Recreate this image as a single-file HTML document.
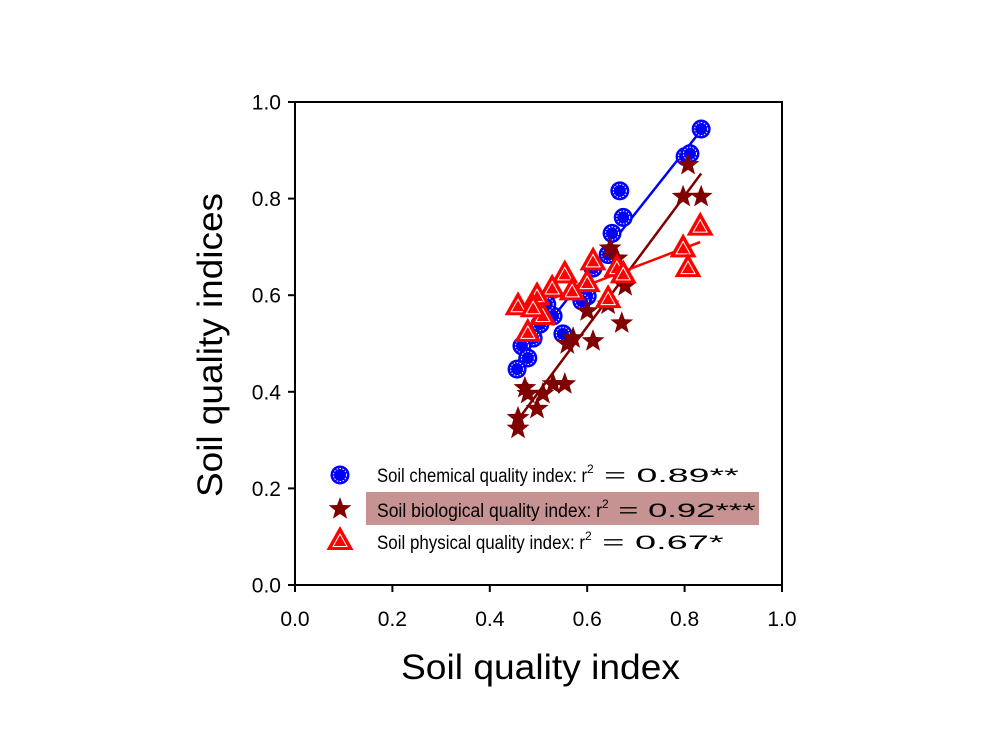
<!DOCTYPE html>
<html><head><meta charset="utf-8"><style>
body{margin:0;background:#fff}
svg{display:block;font-family:"Liberation Sans",Arial,sans-serif}
</style></head><body>
<svg id="chart" width="1000" height="750" viewBox="0 0 1000 750">
<g id="axes"></g>
<g id="lines"></g>
<g id="marks"></g>
<text x="401" y="679" font-size="35" textLength="279" lengthAdjust="spacingAndGlyphs">Soil quality index</text>
<text transform="translate(222,497) rotate(-90)" font-size="35" textLength="304" lengthAdjust="spacingAndGlyphs">Soil quality indices</text>
<g>
<rect x="366" y="492" width="393" height="33" fill="#c79292"/>
<g id="legmarks"></g>
<text x="377" y="482" font-size="19"><tspan textLength="210" lengthAdjust="spacingAndGlyphs">Soil chemical quality index: r</tspan><tspan dy="-9" font-size="12">2</tspan><tspan dy="9" textLength="145" lengthAdjust="spacingAndGlyphs"> = 0.89**</tspan></text>
<text x="377" y="517" font-size="19"><tspan textLength="225" lengthAdjust="spacingAndGlyphs">Soil biological quality index: r</tspan><tspan dy="-9" font-size="12">2</tspan><tspan dy="9" textLength="147" lengthAdjust="spacingAndGlyphs"> = 0.92***</tspan></text>
<text x="377" y="549" font-size="19"><tspan textLength="208" lengthAdjust="spacingAndGlyphs">Soil physical quality index: r</tspan><tspan dy="-9" font-size="12">2</tspan><tspan dy="9" textLength="132" lengthAdjust="spacingAndGlyphs"> = 0.67*</tspan></text>
</g>
</svg>
<script>
const xTicks=[0,0.2,0.4,0.6,0.8,1.0];
const yTicks=[0,0.2,0.4,0.6,0.8,1.0];
const chemX=[0.834,0.801,0.811,0.667,0.674,0.651,0.643,0.612,0.600,0.589,0.550,0.530,0.503,0.489,0.466,0.478,0.456,0.517];
const chemY=[0.944,0.887,0.893,0.816,0.761,0.728,0.684,0.656,0.598,0.588,0.520,0.557,0.540,0.511,0.495,0.470,0.447,0.581];
const bioX=[0.807,0.797,0.834,0.647,0.661,0.678,0.671,0.643,0.600,0.612,0.571,0.559,0.554,0.530,0.509,0.472,0.497,0.478,0.458,0.458];
const bioY=[0.870,0.804,0.804,0.697,0.676,0.619,0.542,0.581,0.567,0.505,0.511,0.499,0.416,0.416,0.396,0.408,0.365,0.396,0.346,0.324];
const phyX=[0.832,0.797,0.807,0.612,0.661,0.674,0.643,0.600,0.554,0.569,0.528,0.497,0.458,0.509,0.478,0.489];
const phyY=[0.742,0.697,0.656,0.670,0.656,0.643,0.592,0.625,0.643,0.608,0.614,0.598,0.577,0.557,0.522,0.573];

const NS="http://www.w3.org/2000/svg";
const X0=295,X1=782,Y0=585,Y1=102;
const sx=v=>X0+v*(X1-X0);
const sy=v=>Y0-v*(Y0-Y1);
function mk(tag,attrs,parent){const e=document.createElementNS(NS,tag);for(const k in attrs)e.setAttribute(k,attrs[k]);parent.appendChild(e);return e;}
const axes=document.getElementById('axes');
const frame=mk('rect',{x:X0,y:Y1,width:X1-X0,height:Y0-Y1,fill:'none',stroke:'#000','stroke-width':2},axes);


xTicks.forEach(t=>{
  const l=mk('line',{x1:sx(t),x2:sx(t),y1:Y0,y2:Y0+7,stroke:'#000','stroke-width':2},axes);
  
  
  const tx=mk('text',{x:sx(t),y:626,'font-size':21,'text-anchor':'middle'},axes);
  tx.textContent=t.toFixed(1);
  
  
});
yTicks.forEach(t=>{
  const l=mk('line',{x1:X0-7,x2:X0,y1:sy(t),y2:sy(t),stroke:'#000','stroke-width':2},axes);
  
  
  const tx=mk('text',{x:281,y:sy(t)+7.5,'font-size':21,'text-anchor':'end'},axes);
  tx.textContent=t.toFixed(1);
  
  
});
function fit(xs,ys){const n=xs.length;let mx=0,my=0;for(let i=0;i<n;i++){mx+=xs[i];my+=ys[i];}mx/=n;my/=n;let sxy=0,sxx=0;for(let i=0;i<n;i++){sxy+=(xs[i]-mx)*(ys[i]-my);sxx+=(xs[i]-mx)**2;}const b=sxy/sxx;return [b,my-b*mx];}
const lines=document.getElementById('lines');
function regLine(xs,ys,color,name){const [b,a]=fit(xs,ys);const lo=Math.min(...xs),hi=Math.max(...xs);
  const l=mk('line',{x1:sx(lo),y1:sy(a+b*lo),x2:sx(hi),y2:sy(a+b*hi),stroke:color,'stroke-width':2.5},lines);
  
  }
regLine(chemX,chemY,'#0000ff','chemical-fit-line');
regLine(bioX,bioY,'#800000','biological-fit-line');
regLine(phyX,phyY,'#ff0000','physical-fit-line');

function circle(cx,cy,p){const g=mk('g',{},p);mk('circle',{cx,cy,r:9.5,fill:'#0000ff'},g);mk('circle',{cx,cy,r:6.5,fill:'none',stroke:'#fff','stroke-width':1,'stroke-dasharray':'1.5 1.5'},g);return g;}
function star(cx,cy,p){let pts=[];for(let i=0;i<10;i++){const r=i%2?5:12;const a=-Math.PI/2+i*Math.PI/5;pts.push((cx+r*Math.cos(a)).toFixed(1)+','+(cy+r*Math.sin(a)).toFixed(1));}return mk('polygon',{points:pts.join(' '),fill:'#800000'},p);}
function tri(cx,cy,p){const g=mk('g',{},p);mk('polygon',{points:`${cx},${cy-15} ${cx-13.5},${cy+9} ${cx+13.5},${cy+9}`,fill:'#ff0000'},g);mk('polygon',{points:`${cx},${cy-7} ${cx-7},${cy+5.5} ${cx+7},${cy+5.5}`,fill:'none',stroke:'#fff','stroke-width':1},g);return g;}
const marks=document.getElementById('marks');
chemX.forEach((x,i)=>{const e=circle(sx(x),sy(chemY[i]),marks);
  
  });
bioX.forEach((x,i)=>{const e=star(sx(x),sy(bioY[i]),marks);
  
  });
phyX.forEach((x,i)=>{const e=tri(sx(x),sy(phyY[i]),marks);
  
  });
const lm=document.getElementById('legmarks');
const m1=circle(340,475,lm);


const m2=star(340,509,lm);


const m3=tri(340,541,lm);


</script>
</body></html>
